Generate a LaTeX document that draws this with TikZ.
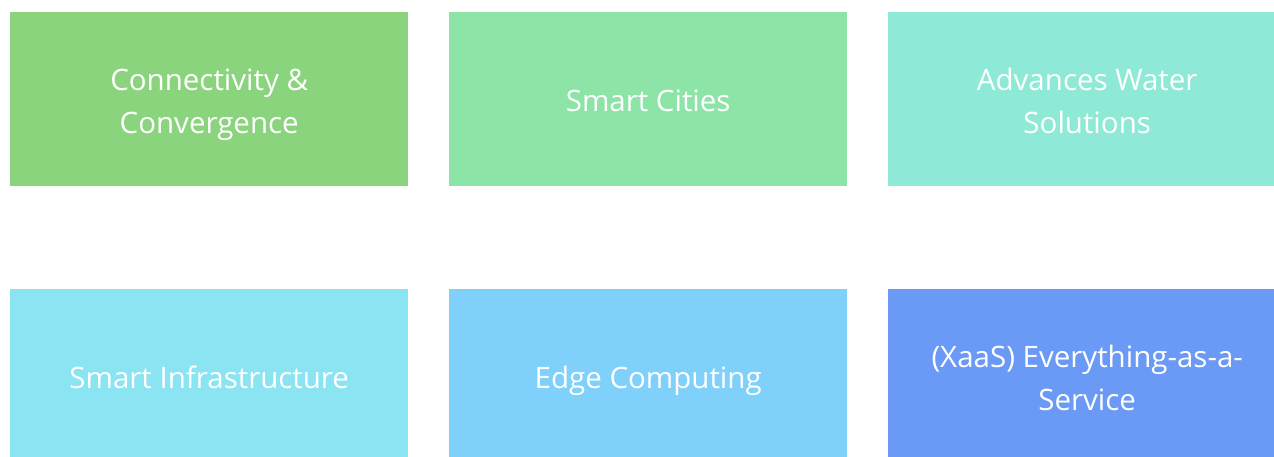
\documentclass[tikz,border=0pt]{standalone}
\usepackage{fontspec}
\setmainfont{Open Sans}
\definecolor{c1}{HTML}{8BD47E}
\definecolor{c2}{HTML}{8CE4A6}
\definecolor{c3}{HTML}{8EEAD6}
\definecolor{c4}{HTML}{8AE4F2}
\definecolor{c5}{HTML}{7FD0FA}
\definecolor{c6}{HTML}{6A9AF5}
\newcommand{\tiletext}[1]{\raisebox{-4pt}[\height][\depth]{\parbox{390pt}{\centering\strut #1\strut}}}
\begin{document}
\begin{tikzpicture}[x=1pt,y=-1pt,
  tile/.style={minimum width=398pt,minimum height=174pt,inner sep=0pt,anchor=north west,
    text=white,align=center,font=\fontsize{29.5}{43}\selectfont}]
\useasboundingbox (0,0) rectangle (1274,456);
\clip (0,0) rectangle (1274,456);
\fill[white] (0,0) rectangle (1274,456);
\node[tile,fill=c1] (a) at (10,12) {\tiletext{Connectivity \&\\Convergence}};
\node[tile,fill=c2] (b) at (449,12) {\tiletext{Smart Cities}};
\node[tile,fill=c3] (c) at (888,12) {\tiletext{Advances Water\\Solutions}};
\node[tile,fill=c4] (d) at (10,289) {\tiletext{Smart Infrastructure}};
\node[tile,fill=c5] (e) at (449,289) {\tiletext{Edge Computing}};
\node[tile,fill=c6] (f) at (888,289) {\tiletext{(XaaS) Everything-as-a-\\Service}};
\end{tikzpicture}
\end{document}
